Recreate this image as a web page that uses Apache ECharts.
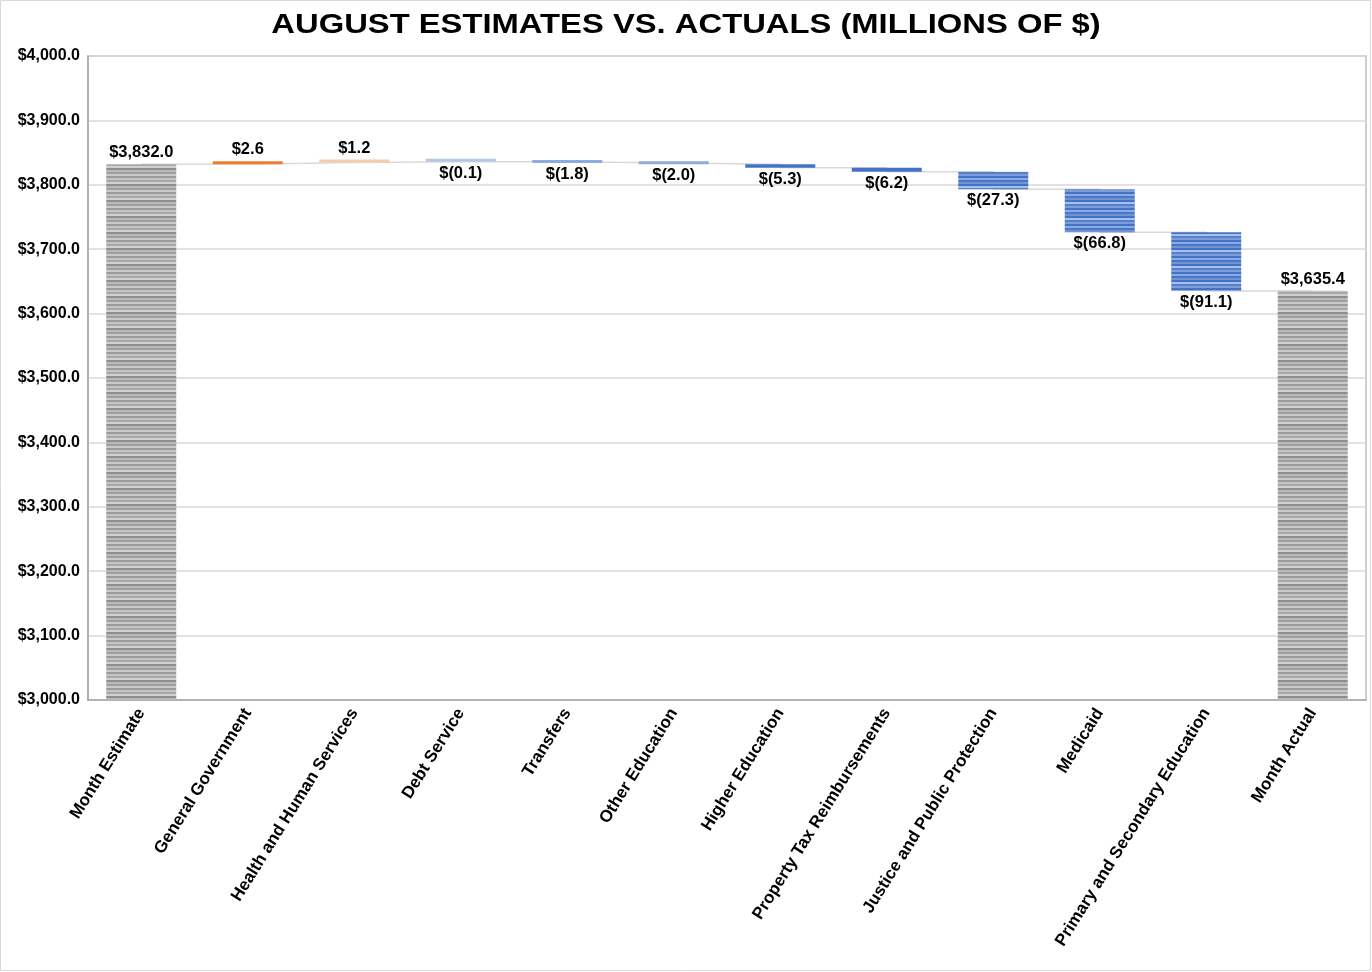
<!DOCTYPE html>
<html>
<head>
<meta charset="utf-8">
<script src="https://cdn.jsdelivr.net/npm/echarts@6/dist/echarts.min.js"></script>
<style>
html,body{margin:0;padding:0;background:#fff;}
#chart{width:1372px;height:972px;}
</style>
</head>
<body>
<div id="chart"></div>
<script>
// ---- data ----
const titleText = 'AUGUST ESTIMATES VS. ACTUALS (MILLIONS OF $)';
const categories = ["Month Estimate","General Government","Health and Human Services","Debt Service","Transfers","Other Education","Higher Education","Property Tax Reimbursements","Justice and Public Protection","Medicaid","Primary and Secondary Education","Month Actual"];
const startValue = 3832.0;
const deltas = [2.6, 1.2, -0.1, -1.8, -2.0, -5.3, -6.2, -27.3, -66.8, -91.1];
const endValue = 3635.4;
const yTicks = [3000, 3100, 3200, 3300, 3400, 3500, 3600, 3700, 3800, 3900, 4000];

// ---- styles ----
function stripes(colors, h) {
  const c = document.createElement('canvas');
  c.width = 4; c.height = colors.length * h;
  const ctx = c.getContext('2d');
  colors.forEach((col, i) => { ctx.fillStyle = col; ctx.fillRect(0, i * h, 4, h); });
  return { image: c, repeat: 'repeat' };
}
const grayPat = stripes(['#9a9a9a','#c4c4c4','#a8a8a8','#d0d0d0','#8e8e8e','#b8b8b8','#a0a0a0','#cacaca'], 2);
const bluePat = stripes(['#4472c4','#8eaadf','#4a78c8','#6f93d6','#4472c4','#a9bfe6','#5580cc','#7d9dd9'], 2);
const deltaColors = ['#ed7d31','#f8cbad','#b4c7e7','#8faadc','#8faadc','#4472c4','#4472c4',bluePat,bluePat,bluePat];

function num(v) {
  return Math.abs(v).toLocaleString('en-US', {minimumFractionDigits:1, maximumFractionDigits:1});
}
function fmt(v) {
  return v < 0 ? '$(' + num(v) + ')' : '$' + num(v);
}

// ---- build waterfall ----
const baseData = [], visData = [], lineData = [];
let running = startValue;
baseData.push(0);
visData.push({ value: startValue, itemStyle: { color: grayPat }, label: { position: 'top', formatter: fmt(startValue) } });
lineData.push(startValue);
deltas.forEach((d, i) => {
  const next = running + d;
  baseData.push(Math.min(running, next));
  visData.push({
    value: Math.abs(d),
    itemStyle: { color: deltaColors[i] },
    label: { position: d >= 0 ? 'top' : 'bottom', formatter: fmt(d) }
  });
  running = next;
  lineData.push(running);
});
baseData.push(0);
visData.push({ value: endValue, itemStyle: { color: grayPat }, label: { position: 'top', formatter: fmt(endValue) } });
lineData.push(endValue);

const chart = echarts.init(document.getElementById('chart'));
chart.setOption({
  animation: false,
  backgroundColor: '#fff',
  graphic: [{
    type: 'rect', shape: { x: 0.5, y: 0.5, width: 1370, height: 970 },
    style: { fill: 'none', stroke: '#d9d9d9', lineWidth: 1 }, silent: true
  }, {
    type: 'text', x: 686, y: 25, scaleX: 1.17, scaleY: 1, originX: 0, originY: 0,
    style: { text: titleText, align: 'center', verticalAlign: 'middle',
      font: 'bold 28px "Liberation Sans", Arial', fill: '#000' },
    silent: true
  }],
  grid: { left: 88, right: 6, top: 56, bottom: 272, show: true, borderColor: '#bfbfbf', borderWidth: 1.5 },
  xAxis: {
    type: 'category', data: categories,
    axisLine: { lineStyle: { color: '#a6a6a6', width: 1.5 } },
    axisTick: { show: false },
    axisLabel: { interval: 0, rotate: 58, margin: 10, fontFamily: 'Liberation Sans, Arial', fontWeight: 'bold', fontSize: 17, color: '#000' }
  },
  yAxis: {
    type: 'value', min: yTicks[0], max: yTicks[yTicks.length - 1], interval: 100,
    axisLine: { show: true, lineStyle: { color: '#a6a6a6', width: 1.5 } },
    axisTick: { show: false },
    splitLine: { lineStyle: { color: '#d9d9d9', width: 1.5 } },
    axisLabel: { margin: 8, fontFamily: 'Liberation Sans, Arial', fontWeight: 'bold', fontSize: 16, color: '#000',
      formatter: v => '$' + num(v) }
  },
  series: [
    { type: 'line', data: lineData, step: 'end', symbol: 'none', z: 1,
      lineStyle: { color: '#d9d9d9', width: 1.5 }, silent: true },
    { type: 'bar', stack: 'w', data: baseData, barWidth: 70, z: 2,
      itemStyle: { color: 'transparent' }, silent: true },
    { type: 'bar', stack: 'w', data: visData, barWidth: 70, barMinHeight: 3, z: 3,
      label: { show: true, distance: 3, fontFamily: 'Liberation Sans, Arial', fontWeight: 'bold', fontSize: 16.5, color: '#000' } }
  ]
});
</script>
</body>
</html>
